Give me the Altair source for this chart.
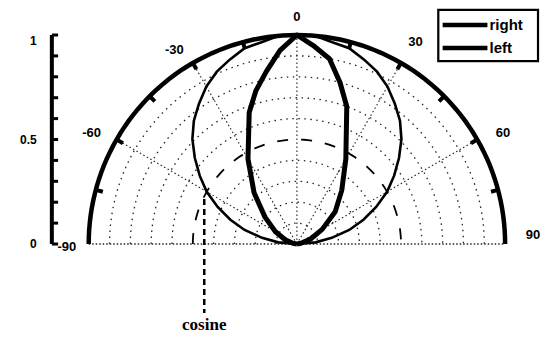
import altair as alt
import numpy as np
import pandas as pd

# ---- data ----
cos_angles = list(range(-90, 91, 5))
cos_r = [0.0, 0.09, 0.17, 0.26, 0.34, 0.42, 0.5, 0.57, 0.64, 0.71, 0.77, 0.82, 0.87,
         0.91, 0.94, 0.97, 0.98, 1.0, 1.0, 1.0, 0.98, 0.97, 0.94, 0.91, 0.87, 0.82,
         0.77, 0.71, 0.64, 0.57, 0.5, 0.42, 0.34, 0.26, 0.17, 0.09, 0.0]

lobe_angles = [-90, -80, -70, -60, -50, -40, -30, -20, -15, -10, -5, 0,
               5, 10, 15, 20, 30, 40, 50, 60, 70, 80, 90]
lobe_r = [0.0, 0.02, 0.06, 0.12, 0.2, 0.32, 0.47, 0.67, 0.76, 0.84, 0.93, 1.0,
          0.95, 0.9, 0.8, 0.7, 0.47, 0.335, 0.24, 0.14, 0.07, 0.02, 0.0]

ring_radii = [0.1, 0.2, 0.3, 0.4, 0.6, 0.7, 0.8, 0.9]
dashed_ring = [0.5]
spoke_angles = [-60, -30, 0, 30, 60]
rim_tick_angles = [-75, -60, -45, -30, -15, 15, 30, 45, 60, 75]

angle_label_text = ["-90", "-60", "-30", "0", "30", "60", "90"]
angle_label_x = [-1.105, -0.986, -0.589, 0.0, 0.569, 0.99, 1.134]
angle_label_y = [-0.014, 0.531, 0.928, 1.085, 0.967, 0.531, 0.043]

r_axis_ticks = [0.0, 0.1, 0.2, 0.3, 0.4, 0.5, 0.6, 0.7, 0.8, 0.9, 1.0]
r_axis_labels = ["0", "0.5", "1"]
r_axis_label_vals = [0.0, 0.5, 0.97]

legend_names = ["right", "left"]

# ---- frame ----
XMIN, XMAX = -1.3876, 1.1627
YMIN, YMAX = -0.4306, 1.1292
AX_X = -1.177

def X(f="x"):
    return alt.X(f"{f}:Q", scale=alt.Scale(domain=[XMIN, XMAX], nice=False, zero=False), axis=None)

def Y(f="y"):
    return alt.Y(f"{f}:Q", scale=alt.Scale(domain=[YMIN, YMAX], nice=False, zero=False), axis=None)

def polar_df(angles, radii, key):
    rows = []
    for g, (a_list, r_list) in enumerate(zip(angles, radii)):
        for i, (a, r) in enumerate(zip(a_list, r_list)):
            rows.append({key: g, "order": i, "theta": a, "r": r})
    return pd.DataFrame(rows)

def to_xy(chart):
    return chart.transform_calculate(
        x="datum.r * sin(datum.theta * PI / 180)",
        y="datum.r * cos(datum.theta * PI / 180)",
    )

arc_angles = list(range(-90, 91, 2))

rings = polar_df([arc_angles] * len(ring_radii), [[r] * len(arc_angles) for r in ring_radii], "g")
ring_layer = to_xy(alt.Chart(rings).mark_line(color="#222", strokeWidth=1.3, strokeDash=[1.5, 4.5])
                   .encode(x=X(), y=Y(), detail="g:N", order="order:Q"))

dring = polar_df([arc_angles], [[0.5] * len(arc_angles)], "g")
dring_layer = to_xy(alt.Chart(dring).mark_line(color="black", strokeWidth=1.8, strokeDash=[11, 13])
                    .encode(x=X(), y=Y(), detail="g:N", order="order:Q"))

spokes = polar_df([[a, a] for a in spoke_angles], [[0, 1]] * len(spoke_angles), "g")
spoke_layer = to_xy(alt.Chart(spokes).mark_line(color="#222", strokeWidth=1.1, strokeDash=[1.5, 2.5])
                    .encode(x=X(), y=Y(), detail="g:N", order="order:Q"))

base = pd.DataFrame({"x": [-1.0], "x2": [1.0], "y": [0.0]})
base_layer = alt.Chart(base).mark_rule(color="#222", strokeWidth=1.3, strokeDash=[1.5, 2]).encode(
    x=X(), x2="x2:Q", y=Y())

rim = polar_df([arc_angles], [[1.0] * len(arc_angles)], "g")
rim_layer = to_xy(alt.Chart(rim).mark_line(color="black", strokeWidth=4.5)
                  .encode(x=X(), y=Y(), detail="g:N", order="order:Q"))

rticks = polar_df([[a, a] for a in rim_tick_angles], [[1.0, 0.965]] * len(rim_tick_angles), "g")
rtick_layer = to_xy(alt.Chart(rticks).mark_line(color="black", strokeWidth=4)
                    .encode(x=X(), y=Y(), detail="g:N", order="order:Q"))

cosdf = polar_df([cos_angles], [cos_r], "g")
cos_layer = to_xy(alt.Chart(cosdf).mark_line(color="black", strokeWidth=2.6)
                  .encode(x=X(), y=Y(), order="order:Q"))

lobedf = polar_df([lobe_angles], [lobe_r], "g")
lobe_layer = to_xy(alt.Chart(lobedf).mark_line(color="black", strokeWidth=5, strokeJoin="round")
                   .encode(x=X(), y=Y(), order="order:Q"))

# left radial axis
axline = pd.DataFrame({"x": [AX_X], "y": [0.0], "y2": [1.0]})
axline_layer = alt.Chart(axline).mark_rule(color="black", strokeWidth=4).encode(x=X(), y=Y(), y2="y2:Q")
axt = pd.DataFrame({"x": [AX_X] * len(r_axis_ticks), "x2": [AX_X + 0.03] * len(r_axis_ticks), "y": r_axis_ticks})
axt_layer = alt.Chart(axt).mark_rule(color="black", strokeWidth=3).encode(x=X(), x2="x2:Q", y=Y())
axl = pd.DataFrame({"t": r_axis_labels, "y": r_axis_label_vals, "x": [-1.25] * 3})
axl_layer = alt.Chart(axl).mark_text(align="right", baseline="middle", font="Liberation Sans",
                                     fontWeight="bold", fontSize=12, color="black").encode(
    x=X(), y=Y(), text="t:N")

angl = pd.DataFrame({"t": angle_label_text, "x": angle_label_x, "y": angle_label_y})
angl_layer = alt.Chart(angl).mark_text(align="center", baseline="middle", font="Liberation Sans",
                                       fontWeight="bold", fontSize=13, color="black").encode(
    x=X(), y=Y(), text="t:N")

# legend
box = pd.DataFrame({"x": [0.679], "x2": [1.158], "y": [1.12], "y2": [0.875]})
box_layer = alt.Chart(box).mark_rect(fill="white", stroke="black", strokeWidth=2.2).encode(
    x=X(), x2="x2:Q", y=Y(), y2="y2:Q")
leg_y = [1.048, 0.938]
legl = pd.DataFrame({"x": [0.70] * 2, "x2": [0.915] * 2, "y": leg_y})
legl_layer = alt.Chart(legl).mark_rule(color="black", strokeWidth=4.5).encode(x=X(), x2="x2:Q", y=Y())
legt = pd.DataFrame({"t": legend_names, "x": [0.925] * 2, "y": leg_y})
legt_layer = alt.Chart(legt).mark_text(align="left", baseline="middle", font="Liberation Sans",
                                       fontWeight="bold", fontSize=15, color="black").encode(
    x=X(), y=Y(), text="t:N")

# cosine annotation
ptr = pd.DataFrame({"x": [-0.445], "y": [0.215], "y2": [-0.33]})
ptr_layer = alt.Chart(ptr).mark_rule(color="black", strokeWidth=2.5, strokeDash=[6, 4]).encode(
    x=X(), y=Y(), y2="y2:Q")
cosl = pd.DataFrame({"t": ["cosine"], "x": [-0.445], "y": [-0.41]})
cosl_layer = alt.Chart(cosl).mark_text(align="center", baseline="alphabetic", font="Liberation Serif",
                                       fontWeight="bold", fontSize=17, color="black").encode(
    x=X(), y=Y(), text="t:N")

chart = alt.layer(
    ring_layer, spoke_layer, base_layer, dring_layer, cos_layer, lobe_layer, rim_layer, rtick_layer,
    axline_layer, axt_layer, axl_layer, angl_layer, ptr_layer, cosl_layer,
    box_layer, legl_layer, legt_layer,
).properties(
    width=533, height=326, padding=0,
    autosize=alt.AutoSizeParams(type="fit", contains="padding"),
    background="white",
).configure_view(stroke=None)

chart.save("out.html", embed_options={"renderer": "svg", "actions": False})
